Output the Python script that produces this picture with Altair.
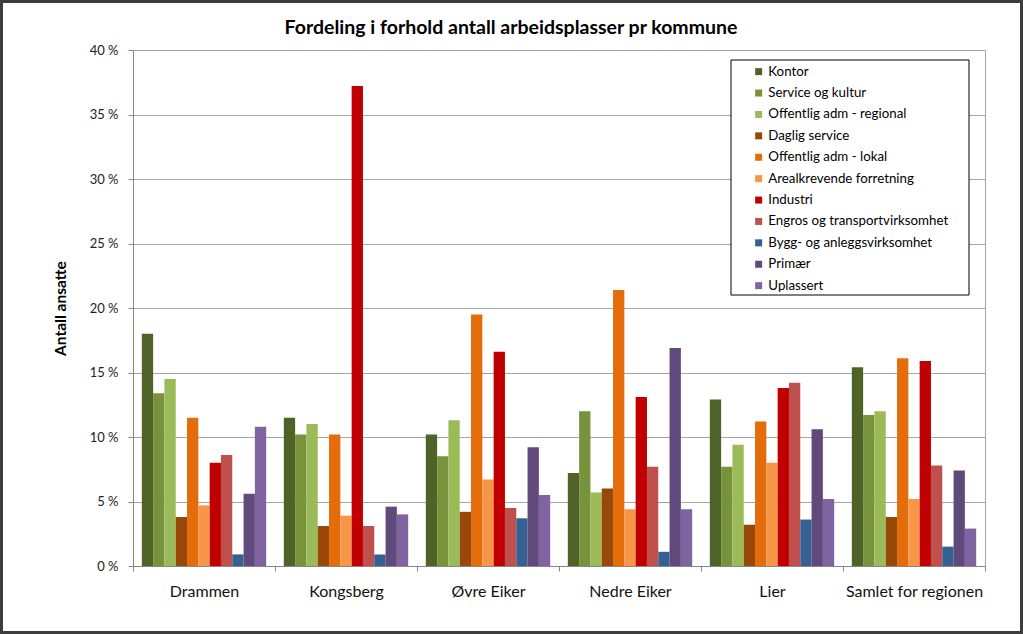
import altair as alt
import pandas as pd

kommuner = ["Drammen", "Kongsberg", "Øvre Eiker", "Nedre Eiker", "Lier", "Samlet for regionen"]
kategorier = ["Kontor", "Service og kultur", "Offentlig adm - regional", "Daglig service",
              "Offentlig adm - lokal", "Arealkrevende forretning", "Industri",
              "Engros og transportvirksomhet", "Bygg- og anleggsvirksomhet", "Primær", "Uplassert"]
farger = ["#4F6228", "#77933C", "#9BBB59", "#984807", "#E46C0A", "#F79646",
          "#C00000", "#C0504D", "#376092", "#604A7B", "#8064A2"]

drammen = [18.0, 13.4, 14.5, 3.8, 11.5, 4.7, 8.0, 8.6, 0.9, 5.6, 10.8]
kongsberg = [11.5, 10.2, 11.0, 3.1, 10.2, 3.9, 37.2, 3.1, 0.9, 4.6, 4.0]
ovre_eiker = [10.2, 8.5, 11.3, 4.2, 19.5, 6.7, 16.6, 4.5, 3.7, 9.2, 5.5]
nedre_eiker = [7.2, 12.0, 5.7, 6.0, 21.4, 4.4, 13.1, 7.7, 1.1, 16.9, 4.4]
lier = [12.9, 7.7, 9.4, 3.2, 11.2, 8.0, 13.8, 14.2, 3.6, 10.6, 5.2]
samlet = [15.4, 11.7, 12.0, 3.8, 16.1, 5.2, 15.9, 7.8, 1.5, 7.4, 2.9]

serier = [drammen, kongsberg, ovre_eiker, nedre_eiker, lier, samlet]
rows = []
for k, vals in zip(kommuner, serier):
    for c, v in zip(kategorier, vals):
        rows.append({"Kommune": k, "Kategori": c, "Andel": v})
df = pd.DataFrame(rows)

FONT = "Lato"
W, H = 852, 516

bars = alt.Chart(df).mark_bar(stroke=None).encode(
    x=alt.X("Kommune:N", sort=kommuner,
            scale=alt.Scale(paddingInner=0, paddingOuter=0),
            axis=alt.Axis(title=None, labelAngle=0, tickBand="extent", grid=False,
                          labelFontSize=16, labelColor="#111111", labelPadding=12,
                          tickSize=5, tickColor="#868686", domainColor="#868686",
                          labelFont=FONT)),
    xOffset=alt.XOffset("Kategori:N", sort=kategorier,
                        scale=alt.Scale(paddingInner=0, paddingOuter=0.78)),
    y=alt.Y("Andel:Q", scale=alt.Scale(domain=[0, 40], nice=False),
            axis=alt.Axis(values=list(range(0, 41, 5)), labelExpr="datum.value + ' %'",
                          title="Antall ansatte", titleFontSize=15.5, titleFontWeight="bold",
                          titleFont=FONT, titleColor="#000000", titlePadding=21,
                          labelFontSize=13, labelColor="#222222", labelFont=FONT,
                          labelPadding=10, tickSize=5, tickColor="#868686",
                          domainColor="#868686", gridColor="#A6A6A6", gridWidth=1)),
    color=alt.Color("Kategori:N", sort=kategorier,
                    scale=alt.Scale(domain=kategorier, range=farger),
                    legend=alt.Legend(orient="none", legendX=598, legendY=10, title=None,
                                      symbolType="square", symbolSize=49, symbolStrokeWidth=0,
                                      labelFontSize=13.3, labelFont=FONT, labelColor="#000000",
                                      rowPadding=7.4, padding=5, symbolOffset=16,
                                      labelOffset=3, labelLimit=300)),
)

legend_box = alt.Chart(alt.Data(values=[{}])).mark_rect(
    fill="white", stroke="#000000", strokeWidth=1
).encode(x=alt.value(598), x2=alt.value(836), y=alt.value(10), y2=alt.value(245))

frame = alt.Chart(alt.Data(values=[{}])).mark_rect(
    filled=False, stroke="#3C3C3C", strokeWidth=3
).encode(x=alt.value(-131.5), x2=alt.value(888.5), y=alt.value(-48.5), y2=alt.value(582.5))

chart = alt.layer(bars, legend_box, frame).properties(
    width=W, height=H,
    title=alt.TitleParams("Fordeling i forhold antall arbeidsplasser pr kommune",
                          fontSize=19.5, fontWeight="bold", font=FONT, color="#000000",
                          anchor="middle", dx=-48, offset=14, dy=52),
    autosize=alt.AutoSizeParams(type="none"),
    padding={"left": 133, "top": 50, "right": 38, "bottom": 68},
    background="white",
).configure_view(stroke="#A6A6A6", strokeWidth=1)

chart.save("out.html", embed_options={"renderer": "svg", "actions": False})
